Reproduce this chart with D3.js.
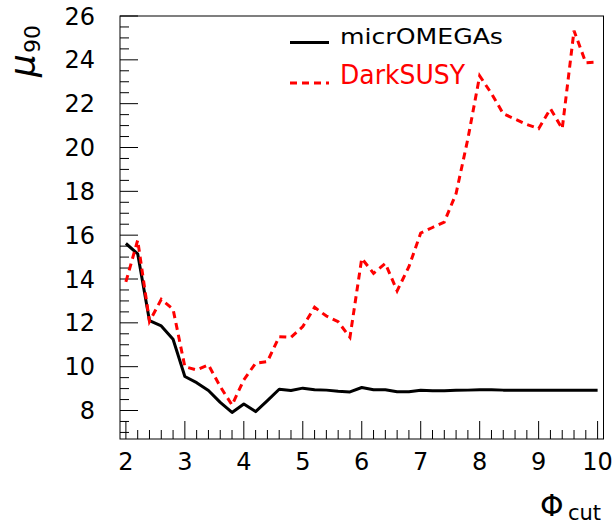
<!DOCTYPE html>
<html>
<head>
<meta charset="utf-8">
<script src="https://cdn.jsdelivr.net/npm/d3@7"></script>
<style>
  body { margin: 0; background: #fff; }
  text { font-family: "DejaVu Sans", sans-serif; }
</style>
</head>
<body>
<div id="vis"></div>
<script>
// phi_cut values (x axis)
var phiCut = [2.0, 2.2, 2.4, 2.6, 2.8, 3.0, 3.2, 3.4, 3.6, 3.8,
              4.0, 4.2, 4.4, 4.6, 4.8, 5.0, 5.2, 5.4, 5.6, 5.8,
              6.0, 6.2, 6.4, 6.6, 6.8, 7.0, 7.2, 7.4, 7.6, 7.8,
              8.0, 8.2, 8.4, 8.6, 8.8, 9.0, 9.2, 9.4, 9.6, 9.8, 10.0];
// mu_90 from micrOMEGAs
var muMicro = [15.62, 15.15, 12.1, 11.86, 11.25, 9.55, 9.27, 8.91, 8.37, 7.91,
               8.30, 7.95, 8.45, 8.97, 8.91, 9.02, 8.95, 8.93, 8.88, 8.85,
               9.05, 8.95, 8.95, 8.86, 8.86, 8.92, 8.90, 8.90, 8.92, 8.93,
               8.95, 8.95, 8.93, 8.93, 8.93, 8.93, 8.93, 8.93, 8.93, 8.93, 8.93];
// mu_90 from DarkSUSY
var muDark = [13.87, 15.77, 12.06, 13.07, 12.62, 10.0, 9.85, 10.08, 9.09, 8.25,
              9.4, 10.16, 10.23, 11.37, 11.34, 11.83, 12.71, 12.31, 12.05, 11.34,
              14.94, 14.26, 14.71, 13.46, 14.56, 16.1, 16.35, 16.6, 17.9, 20.4,
              23.27, 22.46, 21.54, 21.3, 21.05, 20.86, 21.77, 20.86, 25.33, 23.87, 23.9];
var xTicks = [2, 3, 4, 5, 6, 7, 8, 9, 10];
var yTicks = [8, 10, 12, 14, 16, 18, 20, 22, 24, 26];
var seriesNames = ["micrOMEGAs", "DarkSUSY"];

var W = 614, H = 526;
var pL = 120, pR = 603.5, pT = 16, pB = 439;

var svg = d3.select("#vis")
  .append("svg")
    .attr("width", W)
    .attr("height", H);

var x = d3.scaleLinear()
  .domain([1.9, 10.1])
  .range([pL, pR]);

var y = d3.scaleLinear()
  .domain([6.7, 26])
  .range([pB, pT]);

// minor / major ticks, drawn inside the frame like ROOT
var xMinor = d3.range(0, 41).map(function(i) { return 2 + i * 0.2; });
var yMinor = d3.range(0, 39).map(function(i) { return 7 + i * 0.5; });

svg.append("g").selectAll("line")
  .data(xMinor)
  .enter().append("line")
    .attr("x1", function(d) { return x(d); })
    .attr("x2", function(d) { return x(d); })
    .attr("y1", pB)
    .attr("y2", function(d) { return Math.abs(d - Math.round(d)) < 1e-6 ? pB - 18 : pB - 9; })
    .attr("stroke", "#000")
    .attr("stroke-width", 1);

svg.append("g").selectAll("line")
  .data(yMinor)
  .enter().append("line")
    .attr("y1", function(d) { return y(d); })
    .attr("y2", function(d) { return y(d); })
    .attr("x1", pL)
    .attr("x2", function(d) { return yTicks.indexOf(d) >= 0 ? pL + 18 : pL + 9; })
    .attr("stroke", "#000")
    .attr("stroke-width", 1);

// frame
svg.append("rect")
  .attr("x", pL)
  .attr("y", pT)
  .attr("width", pR - pL)
  .attr("height", pB - pT)
  .attr("fill", "none")
  .attr("stroke", "#000")
  .attr("stroke-width", 1);

// tick labels
svg.append("g").selectAll("text")
  .data(xTicks)
  .enter().append("text")
    .attr("x", function(d) { return x(d); })
    .attr("y", 470)
    .attr("text-anchor", "middle")
    .attr("font-size", 24)
    .text(function(d) { return d; });

svg.append("g").selectAll("text")
  .data(yTicks)
  .enter().append("text")
    .attr("x", 95)
    .attr("y", function(d) { return y(d) + 8.5; })
    .attr("text-anchor", "end")
    .attr("font-size", 24)
    .text(function(d) { return d; });

// lines
var line = d3.line()
  .x(function(d) { return x(d[0]); })
  .y(function(d) { return y(d[1]); });

svg.append("path")
  .datum(d3.zip(phiCut, muMicro))
  .attr("fill", "none")
  .attr("stroke", "#000")
  .attr("stroke-width", 3)
  .attr("stroke-linejoin", "round")
  .attr("d", line);

svg.append("path")
  .datum(d3.zip(phiCut, muDark))
  .attr("fill", "none")
  .attr("stroke", "#ff0000")
  .attr("stroke-width", 3)
  .attr("stroke-dasharray", "7,5")
  .attr("d", line);

// legend
svg.append("line")
  .attr("x1", 290).attr("x2", 329)
  .attr("y1", 42.5).attr("y2", 42.5)
  .attr("stroke", "#000").attr("stroke-width", 3);
svg.append("text")
  .attr("x", 340).attr("y", 43.5)
  .attr("font-size", 22)
  .attr("textLength", 163)
  .attr("lengthAdjust", "spacingAndGlyphs")
  .text(seriesNames[0]);

svg.append("line")
  .attr("x1", 290).attr("x2", 329)
  .attr("y1", 83).attr("y2", 83)
  .attr("stroke", "#ff0000").attr("stroke-width", 3)
  .attr("stroke-dasharray", "7,5");
svg.append("text")
  .attr("x", 340).attr("y", 84)
  .attr("font-size", 26)
  .attr("fill", "#ff0000")
  .attr("textLength", 125)
  .attr("lengthAdjust", "spacingAndGlyphs")
  .text(seriesNames[1]);

// axis titles
var yt = svg.append("text")
  .attr("transform", "translate(35,77) rotate(-90)")
  .attr("font-size", 36);
yt.append("tspan").attr("font-style", "italic").text("μ");
yt.append("tspan").attr("font-size", 22).attr("dy", 5).attr("dx", 1).text("90");

var xt = svg.append("text")
  .attr("x", 540)
  .attr("y", 516)
  .attr("font-size", 30);
xt.append("tspan").text("Φ");
xt.append("tspan").attr("x", 568).attr("y", 520).attr("font-size", 21).text("cut");
</script>
</body>
</html>
